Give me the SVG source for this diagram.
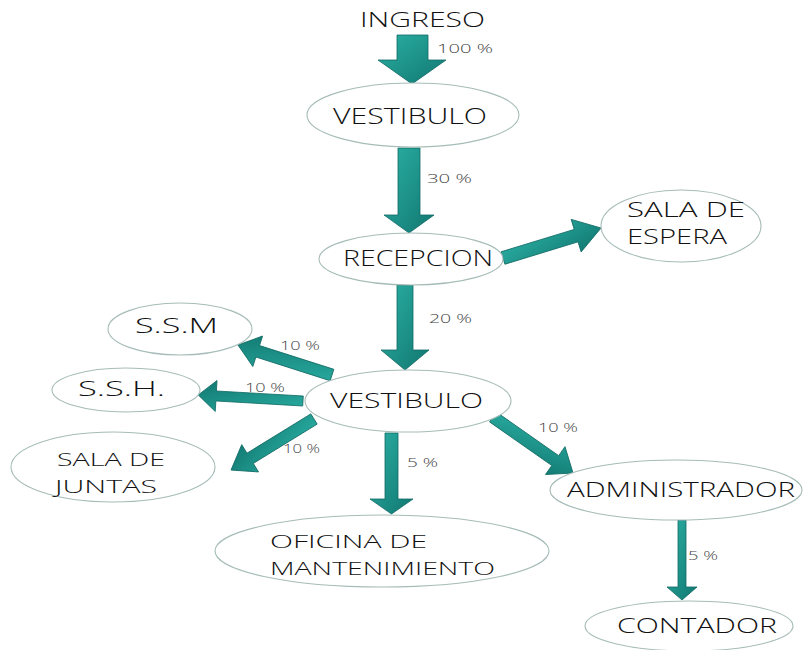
<svg xmlns="http://www.w3.org/2000/svg" width="803" height="650" viewBox="0 0 803 650">
<style>
.n{fill:#fff;stroke:#a6bcb8;stroke-width:1.1}
.t{font-family:"Open Sans","DejaVu Sans","Liberation Sans",sans-serif;font-weight:300;fill:#111}
.p{font-family:"Open Sans","DejaVu Sans","Liberation Sans",sans-serif;font-weight:300;fill:#444;font-size:12px}
.a{fill:url(#g);stroke:#106a64;stroke-width:0.8}
</style>
<defs>
<linearGradient id="g" x1="0" y1="0" x2="1" y2="1">
<stop offset="0" stop-color="#2bb0a4"/>
<stop offset="1" stop-color="#117770"/>
</linearGradient>
</defs>
<rect width="803" height="650" fill="#fff"/>
<g id="connectors">
<polygon class="a" points="397,35 428,35 428,60 446,60 412,84 378,60 397,60"/>
<polygon class="a" points="398,148 420,148 420,215 434,215 409,233 384,215 398,215"/>
<polygon class="a" points="397,285 413,285 413,350 429,350 405,370 381,350 397,350"/>
<polygon class="a" points="385,433 398,433 398,499 413,499 391.5,514 370,499 385,499"/>
<polygon class="a" points="678,520 686,520 686,587 697,587 682,600 667,587 678,587"/>
<g transform="translate(503,258) rotate(-17)"><polygon class="a" points="0,-6.5 76.5,-6.5 76.5,-17 102.5,0 76.5,17 76.5,6.5 0,6.5"/></g>
<g transform="translate(332,375) rotate(197.7)"><polygon class="a" points="0,-6 78,-6 78,-16 98.7,0 78,16 78,6 0,6"/></g>
<g transform="translate(303,401) rotate(183.3)"><polygon class="a" points="0,-5 87,-5 87,-15.5 105,0 87,15.5 87,5 0,5"/></g>
<g transform="translate(314,419) rotate(148.4)"><polygon class="a" points="0,-6 75,-6 75,-16 97.4,0 75,16 75,6 0,6"/></g>
<g transform="translate(493,417) rotate(35)"><polygon class="a" points="0,-6 76,-6 76,-17 97.7,0 76,17 76,6 0,6"/></g>
<text class="p" x="437" y="53" textLength="56" lengthAdjust="spacingAndGlyphs">100 %</text>
<text class="p" x="427" y="183" textLength="45" lengthAdjust="spacingAndGlyphs">30 %</text>
<text class="p" x="429" y="323" textLength="43" lengthAdjust="spacingAndGlyphs">20 %</text>
<text class="p" x="280" y="350" textLength="40" lengthAdjust="spacingAndGlyphs">10 %</text>
<text class="p" x="245" y="392" textLength="40" lengthAdjust="spacingAndGlyphs">10 %</text>
<text class="p" x="283" y="453" textLength="37" lengthAdjust="spacingAndGlyphs">10 %</text>
<text class="p" x="407" y="467" textLength="31" lengthAdjust="spacingAndGlyphs">5 %</text>
<text class="p" x="538" y="432" textLength="40" lengthAdjust="spacingAndGlyphs">10 %</text>
<text class="p" x="688" y="560" textLength="30" lengthAdjust="spacingAndGlyphs">5 %</text>
</g>
<g id="ingreso">
<text class="t" x="360" y="27" font-size="21" textLength="125" lengthAdjust="spacingAndGlyphs">INGRESO</text>
</g>
<g id="vestibulo1">
<ellipse class="n" cx="413" cy="115" rx="106" ry="32"/>
<text class="t" x="333" y="124" font-size="22" textLength="154" lengthAdjust="spacingAndGlyphs">VESTIBULO</text>
</g>
<g id="recepcion">
<ellipse class="n" cx="411" cy="259" rx="92" ry="26"/>
<text class="t" x="343" y="266" font-size="22" textLength="150" lengthAdjust="spacingAndGlyphs">RECEPCION</text>
</g>
<g id="sala-espera">
<ellipse class="n" cx="681" cy="226" rx="80" ry="36"/>
<text class="t" x="627" y="217" font-size="20" textLength="118" lengthAdjust="spacingAndGlyphs">SALA DE</text>
<text class="t" x="627" y="244" font-size="20" textLength="100" lengthAdjust="spacingAndGlyphs">ESPERA</text>
</g>
<g id="ssm">
<ellipse class="n" cx="180" cy="329" rx="72" ry="26"/>
<text class="t" x="135" y="333" font-size="21" textLength="83" lengthAdjust="spacingAndGlyphs">S.S.M</text>
</g>
<g id="ssh">
<ellipse class="n" cx="126" cy="390" rx="74" ry="22"/>
<text class="t" x="78" y="396" font-size="20" textLength="87" lengthAdjust="spacingAndGlyphs">S.S.H.</text>
</g>
<g id="vestibulo2">
<ellipse class="n" cx="408" cy="401" rx="103" ry="31"/>
<text class="t" x="330" y="408" font-size="21" textLength="153" lengthAdjust="spacingAndGlyphs">VESTIBULO</text>
</g>
<g id="sala-juntas">
<ellipse class="n" cx="113" cy="467" rx="102" ry="35"/>
<text class="t" x="57" y="466" font-size="19" textLength="108" lengthAdjust="spacingAndGlyphs">SALA DE</text>
<text class="t" x="55" y="493" font-size="19" textLength="102" lengthAdjust="spacingAndGlyphs">JUNTAS</text>
</g>
<g id="oficina">
<ellipse class="n" cx="382" cy="551" rx="167" ry="36"/>
<text class="t" x="270" y="548" font-size="19" textLength="157" lengthAdjust="spacingAndGlyphs">OFICINA DE</text>
<text class="t" x="270" y="575" font-size="19" textLength="225" lengthAdjust="spacingAndGlyphs">MANTENIMIENTO</text>
</g>
<g id="administrador">
<ellipse class="n" cx="676" cy="490" rx="126" ry="30"/>
<text class="t" x="567" y="497" font-size="21" textLength="228" lengthAdjust="spacingAndGlyphs">ADMINISTRADOR</text>
</g>
<g id="contador">
<ellipse class="n" cx="689" cy="626" rx="104" ry="25"/>
<text class="t" x="617" y="633" font-size="21" textLength="160" lengthAdjust="spacingAndGlyphs">CONTADOR</text>
</g>
</svg>
